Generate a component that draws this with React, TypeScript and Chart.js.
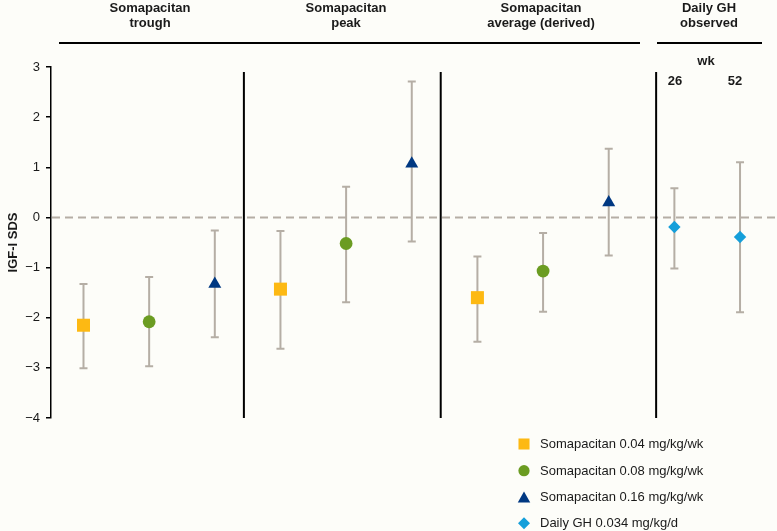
import React, { useEffect, useRef } from "react";
import { Chart, registerables } from "chart.js";
import { drawPoint } from "chart.js/helpers";

Chart.register(...registerables);

// ---- data ----
const squareX = [0, 3, 6];
const squareY = [-2.15, -1.43, -1.6];
const squareHi = [-1.33, -0.27, -0.78];
const squareLo = [-3.01, -2.62, -2.48];

const circleX = [1, 4, 7];
const circleY = [-2.08, -0.52, -1.07];
const circleHi = [-1.19, 0.61, -0.31];
const circleLo = [-2.97, -1.69, -1.88];

const triangleX = [2, 5, 8];
const triangleY = [-1.33, 1.07, 0.3];
const triangleHi = [-0.26, 2.71, 1.37];
const triangleLo = [-2.39, -0.48, -0.76];

const diamondX = [9, 10];
const diamondY = [-0.19, -0.39];
const diamondHi = [0.58, 1.1];
const diamondLo = [-1.02, -1.89];

const yTickValues = [-4, -3, -2, -1, 0, 1, 2, 3];
const yTickLabels = ["\u22124", "\u22123", "\u22122", "\u22121", "0", "1", "2", "3"];

const separatorX = [2.443, 5.441, 8.722];

const groupHeaders = [
  { lines: ["Somapacitan", "trough"], px: 150 },
  { lines: ["Somapacitan", "peak"], px: 346 },
  { lines: ["Somapacitan", "average (derived)"], px: 541 },
  { lines: ["Daily GH", "observed"], px: 709 },
];
const weekLabel = "wk";
const weekTicks = ["26", "52"];

const seriesNames = [
  "Somapacitan 0.04 mg/kg/wk",
  "Somapacitan 0.08 mg/kg/wk",
  "Somapacitan 0.16 mg/kg/wk",
  "Daily GH 0.034 mg/kg/d",
];

const COLORS = {
  square: "#fdb913",
  circle: "#6b9c22",
  triangle: "#003882",
  diamond: "#159fda",
  grey: "#b5aea5",
  bg: "#fdfdf9",
  text: "#1a1a1a",
};

const FONT = "'Liberation Sans', Arial, Helvetica, sans-serif";

const toPts = (xs: number[], ys: number[]) => xs.map((x, i) => ({ x, y: ys[i] }));

const errorSets = [
  { xs: squareX, lo: squareLo, hi: squareHi },
  { xs: circleX, lo: circleLo, hi: circleHi },
  { xs: triangleX, lo: triangleLo, hi: triangleHi },
  { xs: diamondX, lo: diamondLo, hi: diamondHi },
];

const decorPlugin = {
  id: "decor",
  beforeDraw(chart: any) {
    const ctx = chart.ctx;
    ctx.save();
    ctx.fillStyle = COLORS.bg;
    ctx.fillRect(0, 0, chart.width, chart.height);
    ctx.restore();
  },
  beforeDatasetsDraw(chart: any) {
    const ctx = chart.ctx;
    const xs = chart.scales.x;
    const ys = chart.scales.y;
    const area = chart.chartArea;
    ctx.save();
    // zero reference dashed line
    ctx.strokeStyle = COLORS.grey;
    ctx.lineWidth = 2;
    ctx.setLineDash([8, 5]);
    const y0 = ys.getPixelForValue(0);
    ctx.beginPath();
    ctx.moveTo(area.left + 1, y0);
    ctx.lineTo(area.right, y0);
    ctx.stroke();
    ctx.setLineDash([]);

    // separators
    ctx.strokeStyle = "#000";
    ctx.lineWidth = 2;
    separatorX.forEach((sx) => {
      const px = xs.getPixelForValue(sx);
      ctx.beginPath();
      ctx.moveTo(px, area.top + 5);
      ctx.lineTo(px, area.bottom);
      ctx.stroke();
    });

    // error bars
    ctx.strokeStyle = COLORS.grey;
    ctx.lineWidth = 2;
    errorSets.forEach((s) => {
      s.xs.forEach((xv, i) => {
        const px = xs.getPixelForValue(xv);
        const pl = ys.getPixelForValue(s.lo[i]);
        const ph = ys.getPixelForValue(s.hi[i]);
        ctx.beginPath();
        ctx.moveTo(px, pl);
        ctx.lineTo(px, ph);
        ctx.moveTo(px - 4, pl);
        ctx.lineTo(px + 4, pl);
        ctx.moveTo(px - 4, ph);
        ctx.lineTo(px + 4, ph);
        ctx.stroke();
      });
    });
    ctx.restore();
  },
  afterDraw(chart: any) {
    const ctx = chart.ctx;
    const area = chart.chartArea;
    ctx.save();
    ctx.fillStyle = COLORS.text;
    ctx.textAlign = "center";
    ctx.textBaseline = "alphabetic";
    ctx.font = `bold 13px ${FONT}`;
    groupHeaders.forEach((h) => {
      ctx.fillText(h.lines[0], h.px, 12);
      ctx.fillText(h.lines[1], h.px, 27);
    });
    // header rules
    ctx.strokeStyle = "#000";
    ctx.lineWidth = 2;
    ctx.beginPath();
    ctx.moveTo(59, 43);
    ctx.lineTo(640, 43);
    ctx.moveTo(657, 43);
    ctx.lineTo(762, 43);
    ctx.stroke();

    // week labels
    ctx.fillText(weekLabel, 706, 65);
    ctx.fillText(weekTicks[0], 675, 85);
    ctx.fillText(weekTicks[1], 735, 85);

    // y title
    ctx.save();
    ctx.translate(13, (area.top + area.bottom) / 2);
    ctx.rotate(-Math.PI / 2);
    ctx.textBaseline = "middle";
    ctx.fillText("IGF-I SDS", 0, 0);
    ctx.restore();

    // legend
    const items = [
      { style: "rect", r: 7.8, color: COLORS.square },
      { style: "circle", r: 5.6, color: COLORS.circle },
      { style: "triangle", r: 7.2, color: COLORS.triangle },
      { style: "rectRot", r: 6, color: COLORS.diamond },
    ];
    const rows = [444, 470.7, 497.3, 523.3];
    ctx.font = `13px ${FONT}`;
    ctx.textAlign = "left";
    ctx.textBaseline = "middle";
    items.forEach((it, i) => {
      ctx.fillStyle = it.color;
      ctx.strokeStyle = it.color;
      const yy = it.style === "triangle" ? rows[i] + 1.5 : rows[i];
      drawPoint(ctx, { pointStyle: it.style, radius: it.r, rotation: 0, borderWidth: 0 } as any, 524, yy);
      ctx.fillStyle = COLORS.text;
      ctx.fillText(seriesNames[i], 540, rows[i] + 0.5);
    });
    ctx.restore();
  },
};

export default function App() {
  const ref = useRef<HTMLCanvasElement>(null);
  useEffect(() => {
    if (!ref.current) return;
    const mk = (label: string, data: any[], style: string, r: number, color: string) => ({
      label,
      data,
      pointStyle: style,
      pointRadius: r,
      pointHoverRadius: r,
      backgroundColor: color,
      borderColor: color,
      borderWidth: 0,
      showLine: false,
    });
    const chart = new Chart(ref.current, {
      type: "scatter",
      data: {
        datasets: [
          mk(seriesNames[0], toPts(squareX, squareY), "rect", 9.2, COLORS.square),
          mk(seriesNames[1], toPts(circleX, circleY), "circle", 6.4, COLORS.circle),
          mk(seriesNames[2], toPts(triangleX, triangleY), "triangle", 7.5, COLORS.triangle),
          mk(seriesNames[3], toPts(diamondX, diamondY), "rectRot", 6.2, COLORS.diamond),
        ] as any,
      },
      options: {
        animation: false,
        responsive: false,
        devicePixelRatio: 1,
        layout: { autoPadding: false, padding: { top: 67, bottom: 113, left: 0, right: 0 } },
        plugins: { legend: { display: false }, tooltip: { enabled: false } },
        scales: {
          x: { type: "linear", min: -0.495, max: 10.563, display: false },
          y: {
            type: "linear",
            min: -4,
            max: 3,
            afterFit: (s: any) => {
              s.width = 51;
            },
            afterBuildTicks: (s: any) => {
              s.ticks = yTickValues.map((v) => ({ value: v }));
            },
            ticks: {
              padding: 6,
              color: COLORS.text,
              font: { family: FONT, size: 13 },
              callback: (v: any) => {
                const idx = yTickValues.indexOf(Number(v));
                return idx >= 0 ? yTickLabels[idx] : "";
              },
            },
            grid: {
              drawOnChartArea: false,
              drawTicks: true,
              tickLength: 5,
              color: "#000",
              lineWidth: 1.5,
            },
            border: { display: true, color: "#000", width: 1.5 },
          },
        },
      } as any,
      plugins: [decorPlugin],
    });
    return () => chart.destroy();
  }, []);
  return (
    <div style={{ position: "absolute", left: 0, top: 0, width: 777, height: 531 }}>
      <canvas ref={ref} width={777} height={531} style={{ display: "block" }} />
    </div>
  );
}
